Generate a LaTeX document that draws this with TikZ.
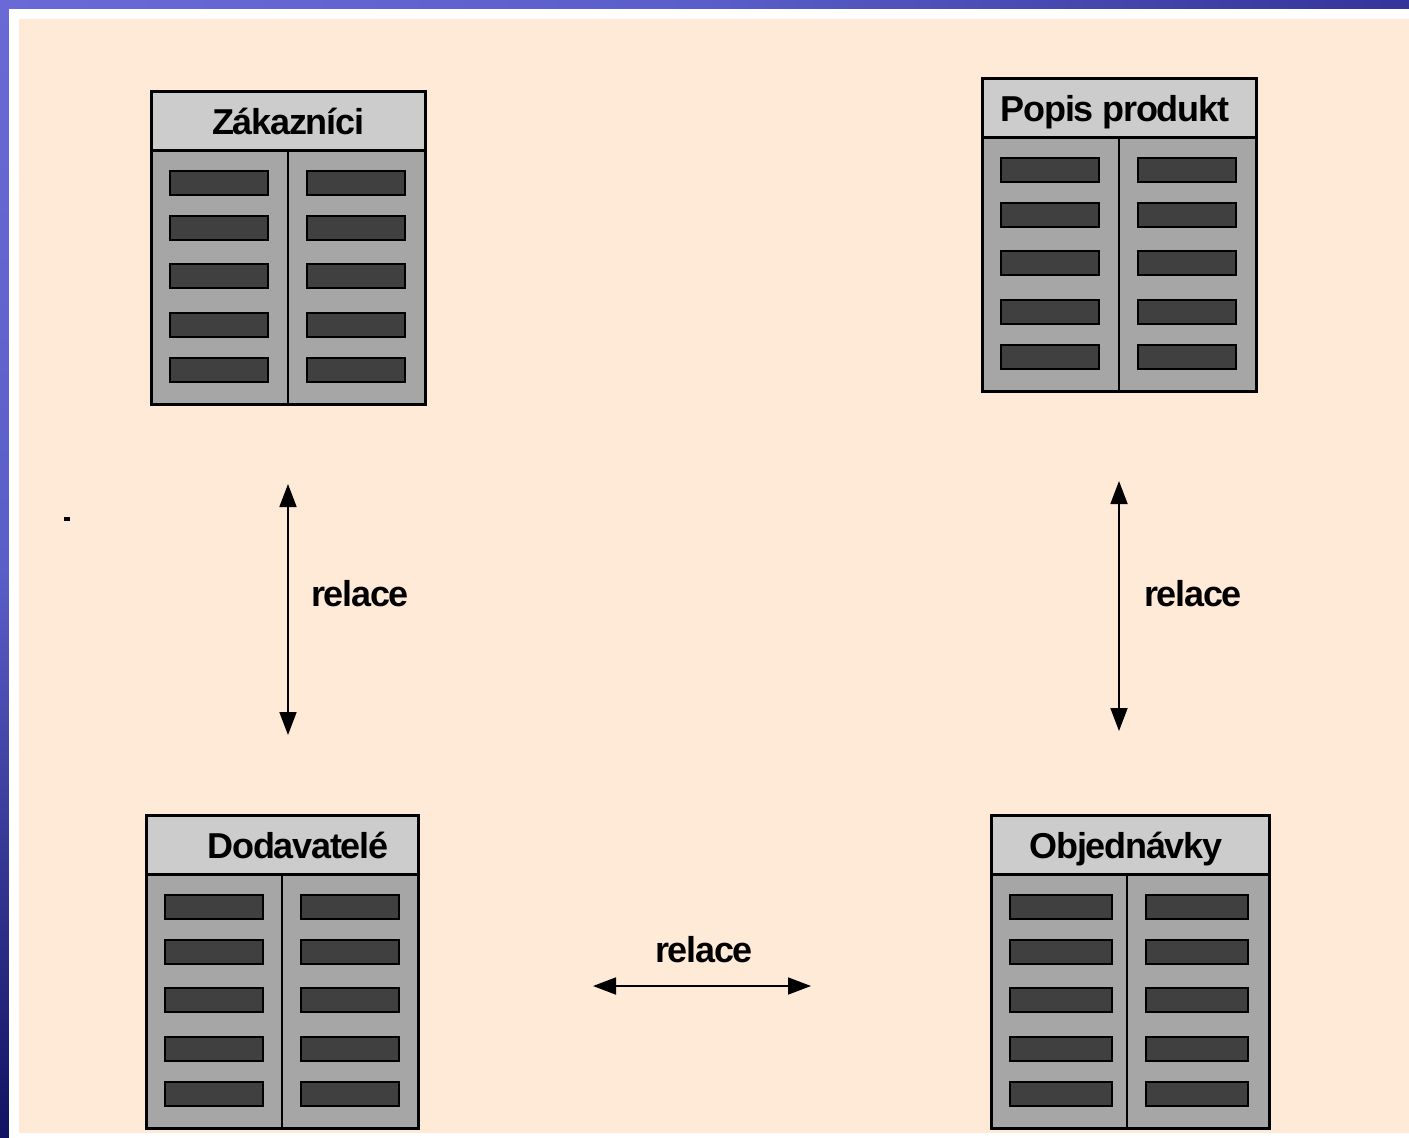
\documentclass[tikz,border=0pt]{standalone}
\usepackage{fontspec}
\usetikzlibrary{arrows.meta}
\newfontfamily\headfont[LetterSpace=-3.5]{Liberation Sans Bold}

\definecolor{peach}{HTML}{FFEAD8}
\definecolor{headgray}{HTML}{CCCCCC}
\definecolor{bodygray}{HTML}{A6A6A6}
\definecolor{slotgray}{HTML}{404040}
\definecolor{frameA}{HTML}{6A6AD6}
\definecolor{frameB}{HTML}{5A5EC8}
\definecolor{frameC}{HTML}{34349A}
\definecolor{frameD}{HTML}{121262}

\tikzset{
  tablehead/.style={fill=headgray, draw=black, line width=3pt},
  tablebody/.style={fill=bodygray, draw=black, line width=3pt},
  divider/.style={draw=black, line width=2.4pt},
  slot/.style={fill=slotgray, draw=black, line width=2.6pt},
  title/.style={font=\headfont\fontsize{36}{40}\selectfont, anchor=base, inner sep=0pt},
  rel/.style={font=\headfont\fontsize{36}{40}\selectfont, anchor=base, inner sep=0pt},
  relarrow/.style={line width=1.8pt, {Triangle[length=23pt,width=17pt]}-{Triangle[length=23pt,width=17pt]}},
}

% #1 name, #2 left, #3 top, #4 right, #5 divider x, #6 slot width
\newcommand\dbtable[6]{%
  \path[tablebody] (#2,#3+59) rectangle (#4,#3+313);
  \path[tablehead] (#2,#3) rectangle (#4,#3+59);
  \coordinate (#1-nw) at (#2,#3);
  \coordinate (#1-se) at (#4,#3+313);
  \draw[divider] (#5,#3+59) -- (#5,#3+313);
  \foreach \r in {80,125,173,222,267}{
    \path[slot] (#2+19,#3+\r) rectangle ++(#6,24);
    \path[slot] (#5+19,#3+\r) rectangle ++(#6,24);
  }
}

\begin{document}
\begin{tikzpicture}[x=1pt,y=-1pt]
  \useasboundingbox (0,0) rectangle (1409,1138);

  % slide frame
  \shade[top color=frameA, bottom color=frameD, middle color=frameB] (0,0) rectangle (9,1138);
  \shade[left color=frameA, right color=frameC, middle color=frameB] (0,0) rectangle (1409,9);
  \fill[white] (9,9) rectangle (1409,1138);
  \fill[peach] (19,19) rectangle (1409,1133);

  % tables
  \dbtable{zak}{151}{91}{425}{288}{98}
  \dbtable{pop}{982}{78}{1256}{1119}{98}
  \dbtable{dod}{146}{815}{418}{282}{98}
  \dbtable{obj}{991}{815}{1269}{1127}{102}

  \node[title] (zakT) at (288,134) {Zákazníci};
  \node[title] (popT) at (1115,121) {Popis produkt};
  \node[title] (dodT) at (298,858) {Dodavatelé};
  \node[title] (objT) at (1126,858) {Objednávky};

  % relations
  \coordinate (r1a) at (288,484);
  \coordinate (r1b) at (288,735);
  \coordinate (r2a) at (1119,481);
  \coordinate (r2b) at (1119,731);
  \coordinate (r3a) at (593,986);
  \coordinate (r3b) at (811,986);
  \draw[relarrow] (r1a) -- (r1b);
  \draw[relarrow] (r2a) -- (r2b);
  \draw[relarrow] (r3a) -- (r3b);

  \node[rel] (l1) at (360,606) {relace};
  \node[rel] (l2) at (1193,606) {relace};
  \node[rel] (l3) at (704,962) {relace};

  % stray mark
  \fill[black] (64,517) rectangle (70,521);
\end{tikzpicture}
\end{document}
